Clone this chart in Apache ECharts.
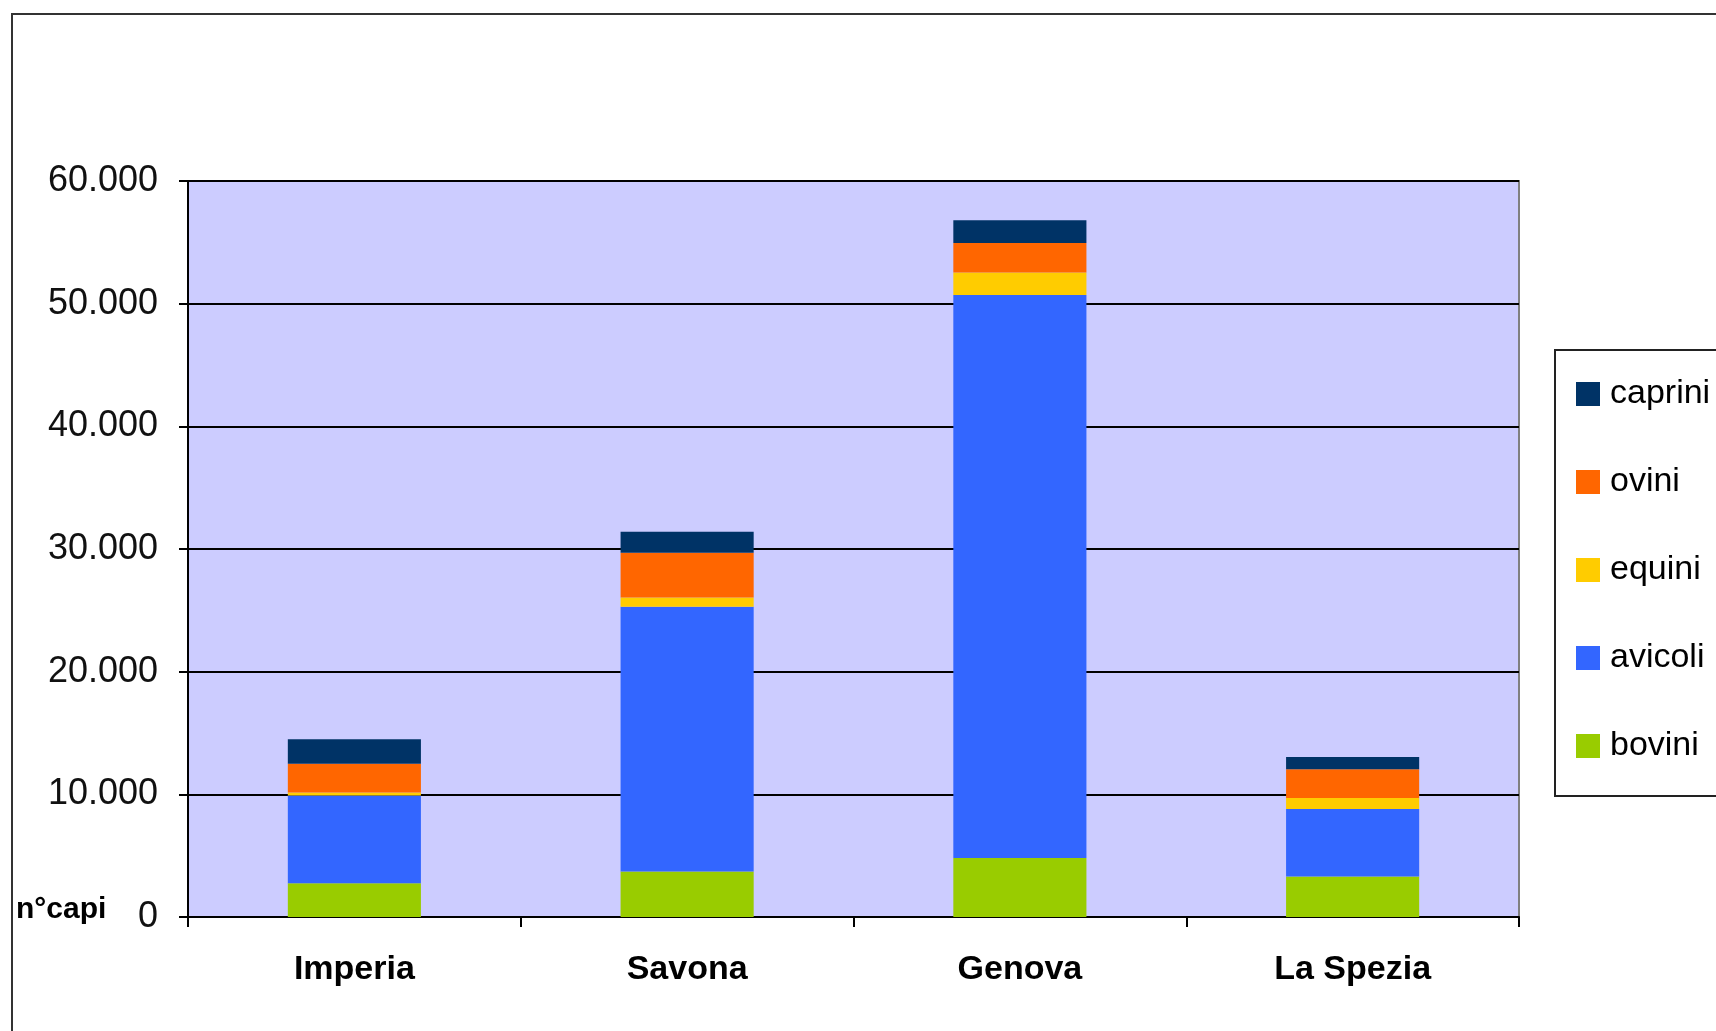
<!DOCTYPE html>
<html>
<head>
<meta charset="utf-8">
<script src="https://cdn.jsdelivr.net/npm/echarts@6/dist/echarts.min.js"></script>
<style>
  html, body { margin: 0; padding: 0; background: #ffffff; width: 1716px; height: 1031px; overflow: hidden; }
  #frame { position: absolute; left: 11px; top: 13px; width: 1800px; height: 1100px; border: 2px solid #333333; box-sizing: border-box; }
  #chart { position: absolute; left: 0; top: 0; width: 1716px; height: 1031px; }
</style>
</head>
<body>
<div id="frame"></div>
<div id="chart"></div>
<script>
const categories = ['Imperia', 'Savona', 'Genova', 'La Spezia'];
const bovini  = [2750, 3700, 4800, 3300];
const avicoli = [7150, 21600, 45900, 5500];
const equini  = [250, 750, 1850, 900];
const ovini   = [2350, 3650, 2400, 2350];
const caprini = [2000, 1700, 1850, 1000];
const yTicks = [0, 10000, 20000, 30000, 40000, 50000, 60000];

const FONT = '"Liberation Sans", Arial, sans-serif';
const chart = echarts.init(document.getElementById('chart'));

function fmt(v) {
  return String(v).replace(/\B(?=(\d{3})+(?!\d))/g, '.');
}

const seriesDefs = [
  { name: 'bovini', data: bovini, color: '#99CC00' },
  { name: 'avicoli', data: avicoli, color: '#3366FF' },
  { name: 'equini', data: equini, color: '#FFCC00' },
  { name: 'ovini', data: ovini, color: '#FF6600' },
  { name: 'caprini', data: caprini, color: '#003366' }
];

chart.setOption({
  animation: false,
  backgroundColor: 'transparent',
  grid: {
    left: 188, right: 197, top: 181, bottom: 114,
    show: true, backgroundColor: '#CCCCFF', borderColor: '#808080', borderWidth: 2
  },
  legend: {
    left: 1555, top: 350,
    orient: 'vertical',
    data: ['caprini', 'ovini', 'equini', 'avicoli', 'bovini'],
    icon: 'rect', itemWidth: 24, itemHeight: 24, itemGap: 54,
    padding: [27, 40, 33, 21],
    backgroundColor: '#ffffff', borderColor: '#222222', borderWidth: 2,
    textStyle: { fontFamily: FONT, fontSize: 34, color: '#000', lineHeight: 34, padding: [0, 0, 0, 5] }
  },
  xAxis: {
    type: 'category', data: categories,
    axisLine: { lineStyle: { color: '#000', width: 2 } },
    axisTick: { show: true, length: 10, lineStyle: { color: '#000', width: 2 } },
    axisLabel: { fontFamily: FONT, fontSize: 34, fontWeight: 'bold', color: '#000', margin: 36 }
  },
  yAxis: {
    type: 'value', min: yTicks[0], max: yTicks[yTicks.length - 1], interval: 10000,
    axisLine: { show: true, lineStyle: { color: '#000', width: 2 } },
    axisTick: { show: true, length: 9, lineStyle: { color: '#000', width: 2 } },
    splitLine: { show: true, lineStyle: { color: '#000', width: 2 } },
    axisLabel: { fontFamily: FONT, fontSize: 36, color: '#111', margin: 30, formatter: fmt }
  },
  graphic: [
    { type: 'text', left: 16, top: 895,
      style: { text: 'n°capi', font: 'bold 30px ' + FONT, fill: '#000' } }
  ],
  series: seriesDefs.map(s => ({
    name: s.name, type: 'bar', stack: 'total', data: s.data,
    barWidth: '40%', itemStyle: { color: s.color }
  }))
});
</script>
</body>
</html>
